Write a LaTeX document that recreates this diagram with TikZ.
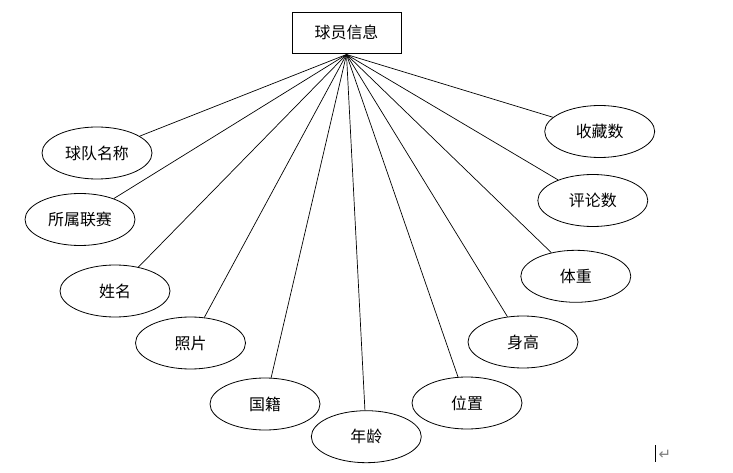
\documentclass[tikz,border=0pt]{standalone}
\usepackage{fontspec}
\newfontfamily\cjk{Noto Sans CJK SC}[Scale=1]
\newfontfamily\symfont{DejaVu Sans}
\usetikzlibrary{shapes.geometric}
\begin{document}
\begin{tikzpicture}[x=1bp,y=-1bp,
  attr/.style={ellipse,draw,line width=0.8bp,minimum width=110bp,minimum height=52bp,inner sep=0pt,font=\cjk\fontsize{16}{16}\selectfont},
  entity/.style={rectangle,draw,line width=0.9bp,minimum width=109bp,minimum height=41bp,inner sep=0pt,font=\cjk\fontsize{16}{16}\selectfont},
  link/.style={line width=0.7bp}]
\useasboundingbox (0,0) rectangle (733,473);
\node[entity] (top) at (346.5,32.7) {球员信息};
\coordinate (hub) at (346.5,54.5);
\node[attr] (a1) at (97,153) {球队名称};
\node[attr] (a2) at (80,219.5) {所属联赛};
\node[attr] (a3) at (115,291) {姓名};
\node[attr] (a4) at (190.5,343) {照片};
\node[attr] (a5) at (265,404) {国籍};
\node[attr] (a6) at (366.3,436.7) {年龄};
\node[attr] (a7) at (467,403) {位置};
\node[attr] (a8) at (523,342) {身高};
\node[attr] (a9) at (575.8,276.3) {体重};
\node[attr] (a10) at (592.8,200.5) {评论数};
\node[attr] (a11) at (599.7,131.5) {收藏数};
\foreach \n in {a1,a2,a3,a4,a5,a6,a7,a8,a9,a10,a11}
  \draw[link] (hub) -- (\n);
\coordinate (c1) at (655,445);
\coordinate (c2) at (655,462);
\draw[line width=0.8bp] (c1) -- (c2);
\node[text=gray,font=\symfont\fontsize{15}{15}\selectfont,inner sep=0pt] (ret) at (665,455) {↵};
\end{tikzpicture}
\end{document}
